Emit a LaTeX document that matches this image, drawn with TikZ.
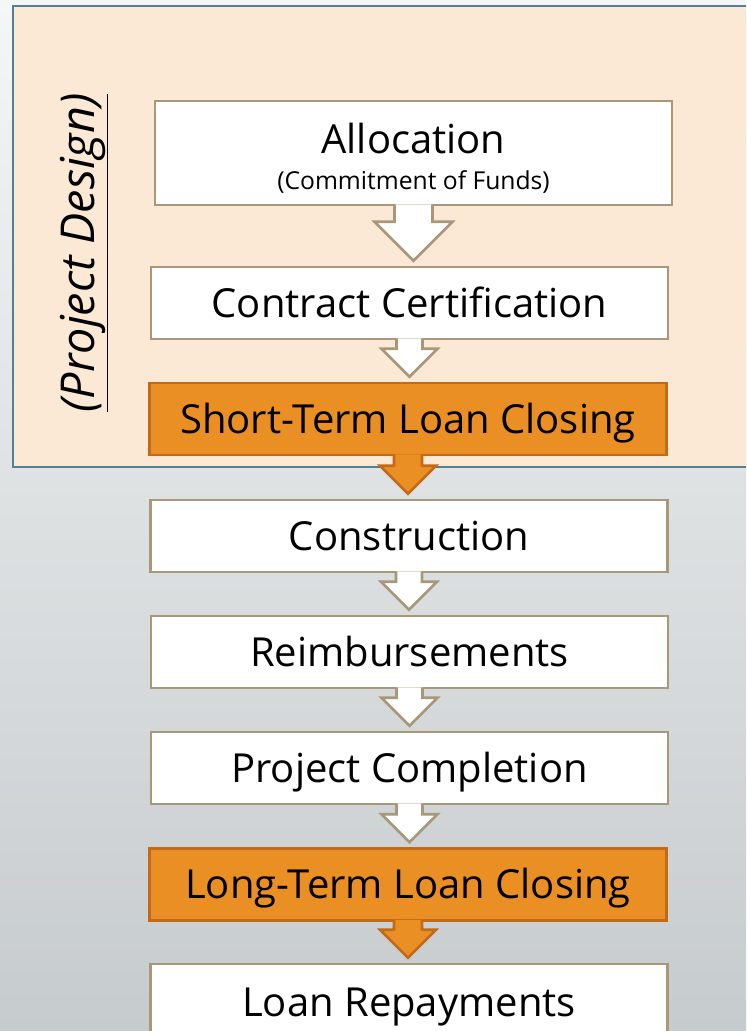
\documentclass[tikz,border=0pt]{standalone}
\usepackage{fontspec}
\setmainfont{Open Sans}
\usetikzlibrary{calc}

\definecolor{designfill}{RGB}{251,232,213}
\definecolor{designedge}{RGB}{80,130,149}
\definecolor{boxedge}{RGB}{169,151,121}
\definecolor{loanfill}{RGB}{234,143,36}
\definecolor{loanedge}{RGB}{194,106,24}

\tikzset{
  steptext/.style={font=\fontsize{30}{33}\selectfont, text height=21.4pt, text depth=0pt, inner sep=0pt},
  stepbox/.style={steptext, draw=boxedge, line width=2pt, fill=white, minimum width=387.75pt,
    minimum height=54pt},
  loanbox/.style={stepbox, draw=loanedge, fill=loanfill},
  flowarrow/.style={draw=boxedge, line width=2pt, fill=white, line join=miter},
  loanarrow/.style={flowarrow, draw=loanedge, fill=loanfill},
}

% block arrow from the foot of one box down to the next one
% #1 style, #2 from, #3 to, #4 half shaft width, #5 half head width
\newcommand{\flowstep}[5][flowarrow]{%
  \filldraw[#1] ($(#2.south)+(-#4,-2)$) -- ($(#2.south |- #3.north)+(-#4,-5-#5)$)
    -- ($(#2.south |- #3.north)+(-#5,-5-#5)$) -- ($(#2.south |- #3.north)+(0,-5)$)
    -- ($(#2.south |- #3.north)+(#5,-5-#5)$) -- ($(#2.south |- #3.north)+(#4,-5-#5)$)
    -- ($(#2.south)+(#4,-2)$);}

\begin{document}
\begin{tikzpicture}[x=0.75pt,y=0.75pt,yscale=-1,xscale=1]
\clip (0,0) rectangle (746,1031);

%Shape: Background
\shade [top color={rgb,255:red,245;green,246;blue,246}, middle color={rgb,255:red,233;green,235;blue,235}, bottom color={rgb,255:red,198;green,203;blue,205}] (0,0) rectangle (746,1031);
%Shape: Rectangle [design phase]
\draw [draw=designedge, line width=2pt, fill=designfill] (13,6) rectangle (770,467);

% Text Node
\node [rotate=90, font=\fontsize{35}{38}\selectfont\itshape] (design) at (84,253) {\underline{(Project Design)}};

% Step boxes
\node [stepbox, minimum height=78pt] (alloc) at (413.5,153) {};
\node [steptext] (allocT) at (413.5,139) {Allocation};
\node [font=\fontsize{18.5}{20}\selectfont, text height=13.2pt, text depth=0pt, inner sep=0pt] (allocS) at (413.5,181) {(Commitment of Funds)};
\node [stepbox] (contract) at (409.5,303) {Contract Certification};
\node [loanbox] (short) at (408,419) {Short-Term Loan Closing};
\node [stepbox] (build) at (409,536) {Construction};
\node [stepbox] (reimb) at (409.5,652) {Reimbursements};
\node [stepbox] (complete) at (409.5,768) {Project Completion};
\node [loanbox] (long) at (408,884.5) {Long-Term Loan Closing};
\node [stepbox] (repay) at (409,1000) {};
\node [steptext] (repayT) at (409,1002) {Loan Repayments};

% Arrows
\flowstep{alloc}{contract}{19}{39}
\flowstep{contract}{short}{13}{28}
\flowstep[loanarrow]{short}{build}{14}{28}
\flowstep{build}{reimb}{13}{28}
\flowstep{reimb}{complete}{13}{28}
\flowstep{complete}{long}{13}{28}
\flowstep[loanarrow]{long}{repay}{14}{28}

\end{tikzpicture}
\end{document}
